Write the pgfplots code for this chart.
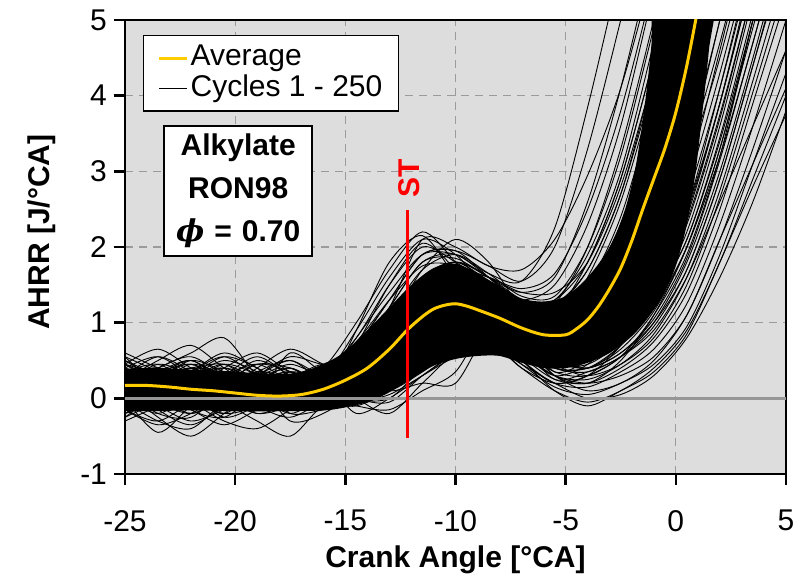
\documentclass[border=0pt]{standalone}
\usepackage{pgfplots}
\pgfplotsset{compat=1.18}
\usepackage{fontspec}
\setmainfont{Liberation Sans}
\newfontfamily\phifont{DejaVu Serif}
\definecolor{bggray}{RGB}{221,221,221}
\definecolor{avgyellow}{RGB}{255,204,0}
\definecolor{gridgray}{RGB}{155,155,155}
\definecolor{zerogray}{RGB}{150,150,150}
\pgfplotsset{cyc/.style={black, line width=0.45pt, smooth}}
\newcommand\cyc[1]{\addplot[cyc, forget plot] table[header=false, x expr={-25+1.5*\coordindex}, y index=0, row sep=\\]{#1};}
\begin{document}
\begin{tikzpicture}
\begin{axis}[name=ax, scale only axis, width=330.5pt, height=227pt,
  xmin=-25, xmax=5, ymin=-1, ymax=5,
  xtick={-25,-20,...,5}, ytick={-1,0,...,5},
  grid=major, major grid style={gridgray, line width=0.6pt, dash pattern=on 4pt off 3pt},
  axis background/.style={fill=bggray},
  axis line style={line width=1.2pt},
  tick align=outside, major tick length=5.5pt, tick style={black, line width=1.2pt},
  tick pos=left,
  ticklabel style={font=\fontsize{15}{15}\selectfont},
  xticklabel style={yshift=-9pt},
  /pgf/number format/assume math mode=true,
  xlabel={Crank Angle [°CA]}, ylabel={AHRR [J/°CA]},
  label style={font=\fontsize{15}{15}\selectfont\bfseries},
  xlabel style={at={(axis description cs:0.5,-0.19)}, anchor=center},
  ylabel style={at={(axis description cs:-0.126,0.533)}, anchor=center},
  legend image code/.code={\draw[#1] (3pt,0pt) -- (17pt,0pt);},
  legend style={at={(axis description cs:0.027,0.967)}, anchor=north west, draw=black, line width=0.75pt, fill=white,
    font=\fontsize{15}{14}\selectfont, inner xsep=7pt, inner ysep=3.5pt, row sep=0pt,
    nodes={inner sep=1pt, text height=10.5pt, text depth=2.8pt}},
  legend cell align=left,
]
\addlegendimage{avgyellow, line width=1.5pt}
\addlegendentry{Average}
\addlegendimage{black, line width=0.5pt}
\addlegendentry{Cycles 1 - 250}

% dense core of the 250 cycles
\addplot[fill=black, draw=none, smooth, forget plot] coordinates {(-25.5,0.38)(-24,0.40)(-22,0.38)(-20,0.35)(-18,0.32)(-17,0.35)(-16,0.45)(-15,0.62)(-14,0.90)(-13,1.20)(-12,1.50)(-11,1.72)(-10,1.78)(-9,1.65)(-8,1.48)(-7,1.32)(-6,1.28)(-5,1.35)(-4,1.60)(-3,2.00)(-2.3,2.50)(-1.8,3.10)(-1.4,3.90)(-1.1,4.70)(-0.9,5.60)(1.8,5.60)(1.5,4.60)(1.25,3.90)(0.9,3.00)(0.5,2.30)(0,1.75)(-0.6,1.35)(-1.3,1.05)(-2,0.82)(-3,0.60)(-4,0.47)(-5,0.40)(-6,0.40)(-7,0.47)(-8,0.56)(-9,0.56)(-10,0.52)(-11,0.43)(-12,0.26)(-13,0.08)(-14,-0.05)(-15,-0.12)(-16,-0.16)(-18,-0.17)(-20,-0.17)(-22,-0.16)(-24,-0.17)(-25.5,-0.16)} -- cycle;

% individual cycles (x = -25, -23.5, ..., 5)
\cyc{0.30\\0.05\\0.25\\0.45\\0.15\\0.05\\0.20\\0.80\\1.40\\1.90\\1.90\\1.65\\1.55\\2.25\\3.85\\5.70\\7.50\\9\\10\\10\\10\\}
\cyc{-0.10\\0.20\\0.00\\-0.20\\0.10\\0.30\\0.10\\0.60\\1.20\\2.10\\2.00\\1.75\\1.70\\2.10\\2.95\\4.10\\5.70\\7.50\\9\\10\\10\\}
\cyc{0.50\\0.30\\0.10\\0.20\\0.35\\0.20\\0.40\\1.00\\1.70\\2.20\\1.80\\1.30\\1.10\\1.25\\2.00\\3.30\\5.00\\6.80\\8.60\\10\\10\\}
\cyc{0.00\\-0.45\\-0.10\\0.15\\-0.10\\-0.25\\0.00\\0.50\\1.00\\1.70\\2.10\\1.80\\1.20\\1.00\\1.60\\2.60\\4.10\\5.90\\7.70\\9.50\\10\\}
\cyc{0.20\\0.40\\0.60\\0.80\\0.30\\0.10\\0.25\\0.30\\0.70\\1.30\\1.70\\1.50\\1.00\\0.85\\1.25\\2.00\\3.30\\5.00\\6.80\\8.60\\10\\}
\cyc{0.10\\0.00\\-0.20\\0.00\\0.20\\-0.05\\0.05\\0.20\\0.50\\1.00\\1.40\\1.30\\0.90\\0.75\\1.00\\1.60\\2.60\\4.10\\5.90\\7.70\\9.50\\}
\cyc{0.55\\0.20\\0.30\\0.10\\0.05\\0.60\\0.35\\0.40\\0.30\\0.80\\1.20\\1.20\\0.80\\0.60\\0.75\\1.20\\2.00\\3.30\\5.00\\6.80\\8.60\\}
\cyc{-0.25\\0.05\\0.20\\-0.05\\-0.30\\-0.50\\-0.10\\-0.10\\0.10\\0.50\\0.90\\1.00\\0.60\\0.30\\0.45\\0.90\\1.50\\2.50\\4.10\\5.90\\7.70\\}
\cyc{0.35\\0.45\\0.20\\0.05\\0.25\\0.40\\0.15\\0.00\\0.20\\0.50\\0.80\\0.90\\0.50\\0.20\\0.30\\0.55\\1.10\\1.90\\3.20\\5.00\\6.80\\}
\cyc{0.05\\0.25\\-0.15\\-0.25\\0.05\\0.15\\0.30\\0.00\\0.00\\0.40\\0.70\\0.80\\0.50\\0.10\\-0.10\\0.10\\0.35\\0.85\\1.80\\2.80\\3.75\\}
\cyc{0.15\\-0.10\\0.35\\0.20\\0.00\\-0.15\\0.20\\-0.20\\0.00\\0.30\\0.60\\0.90\\0.70\\0.30\\0.10\\0.20\\0.50\\1.10\\2.10\\3.10\\4.10\\}
\cyc{-0.05\\-0.30\\-0.40\\-0.05\\0.15\\0.00\\-0.15\\0.10\\0.30\\0.60\\0.90\\1.00\\0.70\\0.40\\0.35\\0.55\\0.90\\1.60\\2.60\\3.60\\4.60\\}
\cyc{0.40\\0.10\\0.00\\0.30\\0.55\\0.30\\0.10\\0.90\\1.80\\2.15\\1.60\\1.00\\0.90\\1.10\\1.50\\2.30\\3.60\\5.30\\7.00\\8.80\\10\\}
\cyc{0.25\\0.35\\0.45\\0.25\\0.10\\0.00\\0.05\\0.70\\1.50\\2.05\\1.70\\1.20\\1.00\\0.95\\1.30\\2.10\\3.40\\5.10\\6.90\\8.70\\10\\}
\cyc{-0.15\\0.10\\0.30\\0.35\\0.05\\-0.20\\0.00\\-0.10\\-0.15\\0.10\\0.35\\1.00\\0.80\\0.30\\0.20\\0.50\\1.10\\2.00\\3.30\\5.00\\6.80\\}
\cyc{0.20\\-0.05\\-0.10\\0.10\\0.40\\0.65\\0.45\\0.30\\0.10\\0.20\\0.20\\0.90\\1.05\\0.60\\0.40\\0.70\\1.30\\2.30\\3.70\\5.40\\7.10\\}
\cyc{0.45\\0.25\\0.05\\-0.15\\-0.05\\0.20\\0.25\\0.00\\-0.20\\0.20\\0.60\\0.75\\0.40\\0.20\\0.30\\0.70\\1.40\\2.40\\3.90\\5.70\\7.50\\}
\cyc{0.00\\0.15\\0.40\\0.15\\-0.15\\0.10\\0.35\\0.60\\1.10\\1.60\\1.75\\1.50\\1.20\\1.20\\1.70\\2.70\\4.20\\6.00\\7.80\\9.60\\10\\}
\cyc{0.30\\0.55\\0.35\\0.10\\0.20\\0.05\\-0.15\\0.20\\0.80\\1.50\\1.80\\1.50\\1.00\\0.80\\1.10\\1.80\\3.00\\4.60\\6.40\\8.20\\10\\}
\cyc{-0.20\\-0.05\\0.10\\0.25\\0.20\\-0.30\\-0.20\\0.10\\0.60\\1.20\\1.50\\1.30\\0.90\\0.70\\0.90\\1.50\\2.40\\3.90\\5.70\\7.50\\9.30\\}
\cyc{0.15\\0.30\\0.00\\-0.10\\0.20\\0.30\\0.05\\0.40\\0.90\\1.40\\1.50\\1.30\\1.10\\1.05\\1.40\\2.20\\3.50\\5.20\\7.00\\8.80\\10\\}
\cyc{0.35\\0.10\\-0.15\\0.05\\0.30\\0.15\\0.20\\0.30\\0.60\\1.10\\1.30\\1.10\\0.80\\0.60\\0.80\\1.30\\2.20\\3.60\\5.40\\7.20\\9.00\\}
\cyc{0.05\\0.20\\0.45\\0.30\\0.05\\0.10\\0.30\\0.50\\0.80\\1.20\\1.40\\1.40\\1.20\\1.00\\1.20\\1.80\\2.90\\4.50\\6.30\\8.10\\9.90\\}
\cyc{-0.30\\-0.10\\0.15\\0.35\\0.20\\0.00\\0.10\\0.20\\0.40\\0.90\\1.20\\1.10\\0.70\\0.50\\0.60\\1.00\\1.70\\2.90\\4.60\\6.40\\8.20\\}
\cyc{0.60\\0.40\\0.20\\0.30\\0.10\\-0.05\\0.15\\0.30\\0.70\\1.30\\1.60\\1.40\\1.10\\0.90\\1.20\\1.90\\3.10\\4.80\\6.60\\8.40\\10\\}
\cyc{0.10\\-0.20\\-0.25\\0.10\\0.35\\0.25\\0.00\\0.10\\0.50\\1.10\\1.50\\1.50\\1.30\\1.20\\1.50\\2.40\\3.90\\5.70\\7.50\\9.30\\10\\}
\cyc{0.25\\0.10\\0.30\\0.55\\0.40\\0.10\\0.30\\0.60\\1.20\\1.80\\1.90\\1.60\\1.30\\1.30\\1.80\\2.90\\4.50\\6.30\\8.10\\9.90\\10\\}
\cyc{-0.10\\0.10\\0.25\\0.00\\-0.20\\-0.10\\0.15\\0.00\\0.20\\0.70\\1.10\\1.20\\0.90\\0.60\\0.60\\0.90\\1.50\\2.50\\3.90\\5.60\\7.30\\}
\cyc{0.40\\0.20\\0.05\\0.20\\0.45\\0.35\\0.10\\0.20\\0.40\\0.80\\1.10\\1.10\\0.80\\0.50\\0.50\\0.80\\1.30\\2.10\\3.40\\5.00\\6.70\\}
\cyc{0.00\\0.30\\0.50\\0.20\\0.00\\0.20\\0.40\\0.70\\1.30\\1.90\\1.95\\1.60\\1.20\\1.10\\1.40\\2.10\\3.30\\5.00\\6.80\\8.60\\10\\}
\cyc{0.20\\0.05\\0.15\\0.35\\0.30\\0.45\\0.30\\0.40\\0.80\\1.40\\1.70\\1.60\\1.40\\1.40\\1.80\\2.80\\4.30\\6.10\\7.90\\9.70\\10\\}
\cyc{-0.15\\-0.35\\-0.20\\0.05\\0.10\\-0.10\\-0.05\\0.10\\0.30\\0.70\\1.00\\1.00\\0.70\\0.40\\0.40\\0.70\\1.20\\2.00\\3.20\\4.70\\6.30\\}
\cyc{0.30\\0.40\\0.30\\0.15\\-0.05\\0.05\\0.20\\0.30\\0.60\\1.00\\1.30\\1.30\\1.00\\0.80\\0.90\\1.40\\2.30\\3.70\\5.50\\7.30\\9.10\\}
\cyc{0.05\\-0.05\\0.10\\0.40\\0.60\\0.35\\0.20\\0.50\\1.00\\1.60\\1.80\\1.60\\1.30\\1.10\\1.40\\2.20\\3.60\\5.40\\7.20\\9.00\\10\\}
\cyc{0.45\\0.30\\0.00\\-0.20\\-0.10\\0.15\\0.30\\0.20\\0.30\\0.60\\0.90\\1.00\\0.80\\0.50\\0.40\\0.60\\1.00\\1.70\\2.90\\4.40\\6.00\\}
\cyc{0.10\\0.25\\0.40\\0.45\\0.25\\0.05\\0.05\\0.30\\0.90\\1.50\\1.60\\1.30\\1.00\\0.90\\1.10\\1.70\\2.80\\4.30\\6.10\\7.90\\9.70\\}
\cyc{-0.05\\0.15\\-0.05\\-0.30\\-0.40\\-0.15\\0.10\\0.30\\0.60\\1.00\\1.20\\1.20\\1.00\\0.80\\1.00\\1.50\\2.50\\4.00\\5.80\\7.60\\9.40\\}
\cyc{0.25\\0.50\\0.70\\0.40\\0.15\\0.20\\0.40\\0.60\\0.80\\1.20\\1.50\\1.40\\1.10\\0.90\\1.00\\1.50\\2.40\\3.80\\5.60\\7.40\\9.20\\}
\cyc{0.10\\-0.25\\-0.50\\-0.20\\0.10\\0.30\\0.20\\0.30\\0.70\\1.20\\1.40\\1.20\\0.80\\0.60\\0.70\\1.10\\1.90\\3.20\\5.00\\6.80\\8.60\\}
\cyc{0.35\\0.15\\0.20\\0.05\\0.30\\0.55\\0.45\\0.50\\0.90\\1.50\\1.80\\1.60\\1.20\\1.00\\1.30\\2.00\\3.20\\4.90\\6.70\\8.50\\10\\}
\cyc{0.20\\0.45\\0.30\\0.00\\0.15\\0.35\\0.30\\0.70\\1.30\\1.90\\1.95\\1.75\\1.55\\2.00\\3.30\\5.00\\6.80\\8.60\\10\\10\\10\\}
\cyc{-0.10\\0.05\\0.30\\0.40\\0.20\\0.05\\0.20\\0.60\\1.20\\1.80\\1.85\\1.60\\1.40\\1.60\\2.60\\4.10\\5.90\\7.70\\9.50\\10\\10\\}
\cyc{0.30\\0.15\\-0.05\\0.10\\0.30\\0.20\\0.35\\0.80\\1.50\\2.00\\1.80\\1.50\\1.30\\1.50\\2.30\\3.60\\5.40\\7.20\\9.00\\10\\10\\}
\cyc{0.05\\0.30\\0.20\\-0.15\\-0.05\\0.20\\0.15\\0.50\\1.10\\1.70\\1.90\\1.65\\1.35\\1.35\\2.00\\3.20\\4.90\\6.70\\8.50\\10\\10\\}
\cyc{0.45\\0.20\\0.10\\0.25\\0.05\\-0.10\\0.10\\0.40\\1.00\\1.60\\1.80\\1.55\\1.25\\1.15\\1.80\\2.90\\4.50\\6.30\\8.10\\9.90\\10\\}
\cyc{0.00\\-0.20\\0.05\\0.30\\0.45\\0.25\\0.30\\0.60\\1.10\\1.50\\1.70\\1.60\\1.45\\1.65\\2.50\\3.80\\5.50\\7.30\\9.10\\10\\10\\}
\cyc{0.25\\0.40\\0.15\\0.10\\0.30\\0.50\\0.30\\0.90\\1.60\\2.10\\1.90\\1.45\\1.25\\1.30\\1.90\\3.00\\4.70\\6.50\\8.30\\10\\10\\}
\cyc{0.15\\0.00\\0.20\\0.45\\0.30\\-0.05\\-0.05\\0.30\\0.90\\1.50\\1.75\\1.55\\1.30\\1.25\\1.70\\2.70\\4.30\\6.10\\7.90\\9.70\\10\\}
\cyc{0.10\\0.30\\0.45\\0.20\\-0.10\\0.00\\0.25\\0.40\\0.80\\1.30\\1.50\\1.30\\0.95\\0.70\\0.80\\1.25\\2.00\\3.20\\4.70\\6.40\\8.00\\}
\cyc{-0.20\\0.00\\0.20\\0.10\\0.25\\0.40\\0.20\\0.30\\0.60\\1.10\\1.40\\1.25\\0.85\\0.60\\0.65\\1.00\\1.70\\2.80\\4.30\\6.00\\7.80\\}
\cyc{0.40\\0.25\\0.00\\-0.10\\0.10\\0.15\\0.00\\0.10\\0.40\\0.90\\1.20\\1.10\\0.75\\0.50\\0.55\\0.85\\1.45\\2.45\\3.90\\5.60\\7.30\\}
\cyc{0.05\\0.20\\0.30\\0.50\\0.35\\0.10\\0.15\\0.20\\0.50\\1.00\\1.30\\1.15\\0.75\\0.45\\0.45\\0.75\\1.30\\2.20\\3.60\\5.30\\7.00\\}
\cyc{0.25\\-0.05\\-0.20\\0.00\\0.15\\0.30\\0.40\\0.30\\0.40\\0.80\\1.10\\1.05\\0.70\\0.40\\0.40\\0.65\\1.15\\2.00\\3.30\\4.90\\6.50\\}
\cyc{-0.10\\0.25\\0.40\\0.20\\0.00\\-0.15\\-0.05\\0.00\\0.20\\0.60\\0.95\\1.00\\0.65\\0.35\\0.30\\0.55\\1.00\\1.80\\3.00\\4.50\\6.10\\}
\cyc{0.30\\0.40\\0.10\\-0.05\\0.20\\0.35\\0.15\\0.10\\0.30\\0.70\\1.00\\0.95\\0.60\\0.30\\0.25\\0.45\\0.85\\1.60\\2.75\\4.20\\5.70\\}
\cyc{0.00\\0.10\\0.25\\0.40\\0.25\\0.05\\0.10\\0.05\\0.15\\0.45\\0.80\\0.90\\0.55\\0.25\\0.20\\0.40\\0.75\\1.40\\2.50\\3.90\\5.30\\}
\cyc{0.20\\0.05\\-0.10\\0.10\\0.30\\0.15\\-0.10\\-0.05\\0.10\\0.40\\0.75\\0.85\\0.50\\0.20\\0.15\\0.35\\0.65\\1.25\\2.30\\3.60\\5.00\\}
\cyc{0.35\\0.10\\0.25\\0.15\\0.00\\0.25\\0.45\\0.30\\0.20\\0.50\\0.80\\0.95\\0.60\\0.30\\0.20\\0.30\\0.55\\1.10\\2.10\\3.30\\4.60\\}
\cyc{-0.05\\0.20\\0.05\\-0.25\\-0.10\\0.10\\0.20\\0.00\\-0.05\\0.30\\0.60\\0.80\\0.45\\0.15\\0.05\\0.20\\0.45\\0.95\\1.90\\3.10\\4.30\\}
\cyc{0.15\\0.35\\0.50\\0.25\\0.10\\-0.05\\0.05\\0.10\\0.10\\0.35\\0.65\\0.75\\0.40\\0.10\\-0.05\\0.10\\0.40\\0.90\\1.80\\2.90\\4.00\\}
\cyc{0.25\\0.00\\0.10\\0.35\\0.15\\-0.20\\-0.15\\-0.05\\0.05\\0.30\\0.55\\0.70\\0.45\\0.20\\0.00\\0.05\\0.30\\0.80\\1.60\\2.60\\3.80\\}
\cyc{0.40\\0.55\\0.30\\0.05\\0.10\\0.30\\0.25\\0.50\\0.90\\1.40\\1.60\\1.40\\1.05\\0.80\\0.90\\1.30\\2.00\\3.10\\4.50\\6.20\\8.00\\}
\cyc{-0.15\\-0.30\\-0.05\\0.20\\0.05\\0.00\\0.20\\0.40\\0.70\\1.20\\1.45\\1.30\\0.95\\0.55\\0.70\\1.05\\1.65\\2.65\\4.10\\5.80\\7.60\\}
\cyc{0.10\\0.15\\0.00\\0.20\\0.45\\0.40\\0.20\\0.30\\0.60\\1.10\\1.40\\1.35\\1.00\\0.60\\0.60\\0.90\\1.45\\2.35\\3.75\\5.40\\7.10\\}
\cyc{0.30\\0.20\\0.40\\0.30\\0.05\\0.10\\0.25\\0.20\\0.50\\0.90\\1.20\\1.20\\0.85\\0.35\\0.50\\0.80\\1.30\\2.10\\3.45\\5.10\\6.80\\}
\cyc{0.00\\0.30\\0.15\\-0.10\\0.00\\0.25\\0.35\\0.40\\0.70\\1.10\\1.30\\1.25\\0.95\\0.50\\0.40\\0.60\\1.05\\1.85\\3.15\\4.70\\6.30\\}
\cyc{0.50\\0.25\\0.15\\0.30\\0.20\\0.05\\0.10\\0.15\\0.35\\0.75\\1.05\\1.05\\0.70\\0.25\\0.35\\0.55\\0.95\\1.70\\2.90\\4.40\\5.90\\}
\cyc{-0.05\\0.10\\0.35\\0.55\\0.30\\0.10\\0.30\\0.35\\0.45\\0.80\\1.10\\1.10\\0.80\\0.45\\0.30\\0.45\\0.80\\1.50\\2.65\\4.05\\5.50\\}
\cyc{0.20\\0.10\\0.35\\0.60\\0.40\\0.15\\0.10\\0.50\\1.05\\1.55\\1.65\\1.40\\1.10\\0.95\\1.25\\1.95\\3.15\\4.85\\6.65\\8.45\\10\\}
\cyc{-0.25\\-0.05\\0.15\\0.05\\-0.20\\-0.05\\0.20\\0.20\\0.55\\1.05\\1.35\\1.25\\0.95\\0.80\\1.05\\1.65\\2.70\\4.30\\6.10\\7.90\\9.70\\}
\cyc{0.45\\0.65\\0.40\\0.15\\0.25\\0.35\\0.20\\0.45\\0.90\\1.45\\1.70\\1.50\\1.15\\0.95\\1.30\\2.05\\3.30\\5.00\\6.80\\8.60\\10\\}
\cyc{0.10\\-0.10\\-0.30\\-0.15\\0.05\\0.25\\0.45\\0.65\\1.10\\1.50\\1.55\\1.30\\1.00\\0.85\\1.15\\1.80\\2.95\\4.60\\6.40\\8.20\\10\\}
\cyc{0.30\\0.35\\0.15\\0.25\\0.50\\0.30\\0.00\\0.25\\0.75\\1.35\\1.60\\1.35\\0.95\\0.75\\0.95\\1.50\\2.50\\4.00\\5.80\\7.60\\9.40\\}
\cyc{0.05\\0.25\\0.50\\0.35\\0.10\\-0.10\\0.05\\0.35\\0.85\\1.35\\1.50\\1.30\\1.00\\0.85\\1.15\\1.85\\3.05\\4.70\\6.50\\8.30\\10\\}
\cyc{-0.10\\0.05\\-0.15\\-0.35\\-0.15\\0.05\\0.15\\0.15\\0.45\\0.95\\1.30\\1.30\\1.05\\0.90\\1.20\\1.90\\3.10\\4.80\\6.60\\8.40\\10\\}
\cyc{0.35\\0.15\\0.05\\0.20\\0.10\\0.20\\0.40\\0.75\\1.30\\1.75\\1.75\\1.45\\1.15\\1.05\\1.40\\2.20\\3.50\\5.20\\7.00\\8.80\\10\\}
\cyc{0.15\\0.40\\0.55\\0.30\\0.05\\0.15\\0.10\\0.10\\0.35\\0.85\\1.20\\1.15\\0.85\\0.70\\0.90\\1.45\\2.40\\3.90\\5.70\\7.50\\9.30\\}
\cyc{0.55\\0.35\\0.10\\0.00\\0.15\\0.05\\0.25\\0.55\\1.00\\1.55\\1.75\\1.55\\1.20\\1.00\\1.35\\2.10\\3.40\\5.10\\6.90\\8.70\\10\\}
\cyc{0.00\\0.15\\0.25\\0.10\\0.35\\0.50\\0.30\\0.35\\0.60\\1.00\\1.25\\1.20\\0.90\\0.75\\1.00\\1.55\\2.55\\4.10\\5.90\\7.70\\9.50\\}
\cyc{0.20\\-0.15\\-0.35\\-0.10\\0.20\\0.10\\-0.05\\0.40\\0.95\\1.50\\1.65\\1.35\\1.00\\0.85\\1.10\\1.75\\2.90\\4.50\\6.30\\8.10\\9.90\\}

% zero line
\addplot[zerogray, line width=1.5pt, forget plot] coordinates {(-25,0)(5,0)};
% average
\addplot[avgyellow, line width=1.5pt, smooth, forget plot] coordinates {(-25,0.17)(-24,0.17)(-23,0.15)(-22,0.12)(-21,0.10)(-20,0.07)(-19,0.04)(-18,0.03)(-17,0.05)(-16,0.12)(-15,0.24)(-14,0.40)(-13,0.65)(-12.2,0.90)(-11.5,1.08)(-11,1.18)(-10.5,1.23)(-10,1.25)(-9.5,1.22)(-9,1.17)(-8,1.06)(-7,0.93)(-6,0.84)(-5,0.84)(-4.5,0.92)(-4,1.04)(-3.5,1.22)(-3,1.45)(-2.5,1.72)(-2,2.08)(-1.5,2.5)(-1,2.9)(-0.5,3.3)(0,3.78)(0.5,4.4)(1.0,5.15)};
% start of combustion marker
\addplot[red, line width=1.5pt, forget plot] coordinates {(-12.18,-0.52)(-12.18,2.49)};
\node[text=red, rotate=90, font=\fontsize{15}{15}\selectfont\bfseries] at (axis cs:-12.11,2.91) {ST};
\node[draw=black, line width=1pt, fill=white, align=center, text width=66pt, minimum height=64pt, inner sep=4pt,
  font=\fontsize{15}{21.5}\selectfont\bfseries] at (axis cs:-19.86,2.74) {Alkylate\\RON98\\{\phifont\bfseries\itshape ϕ} = 0.70};
\end{axis}
\pgfresetboundingbox
\path[use as bounding box] ([shift={(-62.5pt,-52pt)}]ax.south west) rectangle ([shift={(11.5pt,10pt)}]ax.north east);
\end{tikzpicture}
\end{document}
